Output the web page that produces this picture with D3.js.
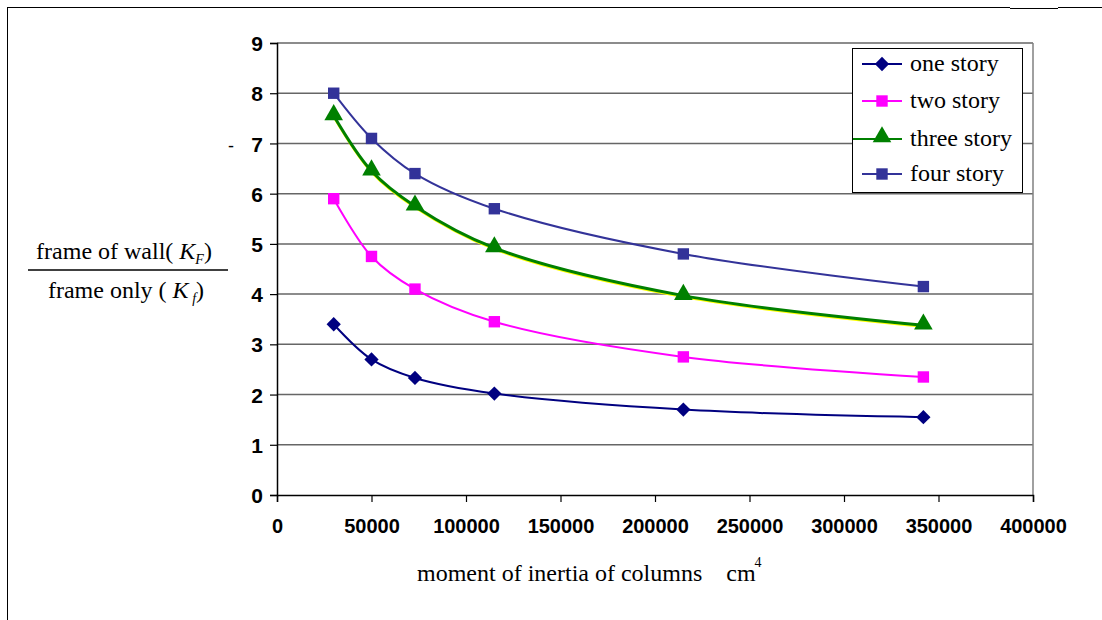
<!DOCTYPE html>
<html lang="en">
<head>
  <meta charset="UTF-8">
  <title>Stiffness ratio vs moment of inertia</title>
  <script src="https://d3js.org/d3.v7.min.js"></script>
  <style>
    * { margin: 0; padding: 0; }
    body { background: #fff; }
  </style>
</head>
<body>
  <div class="chart"></div>
  <script>
    // data
    var inertia = [30000, 50000, 73000, 115000, 215000, 342000];
    var oneStory = [3.4, 2.7, 2.33, 2.02, 1.7, 1.55];
    var twoStory = [5.9, 4.75, 4.1, 3.45, 2.75, 2.35];
    var threeStory = [7.55, 6.45, 5.75, 4.92, 3.97, 3.38];
    var fourStory = [8.0, 7.1, 6.4, 5.7, 4.8, 4.15];
    var seriesNames = ['one story', 'two story', 'three story', 'four story'];
    var xTicks = [0, 50000, 100000, 150000, 200000, 250000, 300000, 350000, 400000];
    var yTicks = [0, 1, 2, 3, 4, 5, 6, 7, 8, 9];

    var width = 1102, height = 620;
    var plotLeft = 277, plotRight = 1033, plotTop = 43, plotBottom = 495;

    var svg = d3.select('.chart')
      .append('svg')
      .attr('width', width)
      .attr('height', height);

    // outer frame (left + top edges)
    svg.append('line').attr('x1', 7.5).attr('y1', 7).attr('x2', 7.5).attr('y2', 620)
      .attr('stroke', '#000').attr('stroke-width', 1);
    svg.append('line').attr('x1', 7).attr('y1', 7.5).attr('x2', 1010).attr('y2', 7.5)
      .attr('stroke', '#000').attr('stroke-width', 1);
    svg.append('line').attr('x1', 1010).attr('y1', 8.5).attr('x2', 1058).attr('y2', 8.5)
      .attr('stroke', '#000').attr('stroke-width', 1);
    svg.append('line').attr('x1', 1058).attr('y1', 7.5).attr('x2', 1102).attr('y2', 7.5)
      .attr('stroke', '#000').attr('stroke-width', 1);

    var xScale = d3.scaleLinear().domain([0, 400000]).range([plotLeft, plotRight]);
    var yScale = d3.scaleLinear().domain([0, 9]).range([plotBottom, plotTop]);

    // gridlines
    svg.append('g')
      .selectAll('line')
      .data(yTicks.slice(1))
      .enter()
      .append('line')
      .attr('x1', plotLeft).attr('x2', plotRight)
      .attr('y1', function (d) { return yScale(d); })
      .attr('y2', function (d) { return yScale(d); })
      .attr('stroke', '#666')
      .attr('stroke-width', 1.5);

    // right border of plot area
    svg.append('line')
      .attr('x1', plotRight).attr('x2', plotRight).attr('y1', plotTop).attr('y2', plotBottom)
      .attr('stroke', '#808080').attr('stroke-width', 1.5);

    // axes
    var xAxis = d3.axisBottom(xScale).tickValues(xTicks).tickSize(7).tickFormat(d3.format('d'));
    var yAxis = d3.axisLeft(yScale).tickValues(yTicks).tickSize(7).tickFormat(d3.format('d'));

    var gx = svg.append('g')
      .attr('transform', 'translate(0,' + plotBottom + ')')
      .call(xAxis);
    var gy = svg.append('g')
      .attr('transform', 'translate(' + plotLeft + ',0)')
      .call(yAxis);

    [gx, gy].forEach(function (g) {
      g.select('.domain').attr('stroke', '#000').attr('stroke-width', 1.5);
      g.selectAll('.tick line').attr('stroke', '#000').attr('stroke-width', 1.2);
      g.selectAll('.tick text')
        .attr('fill', '#000')
        .style('font-family', 'Liberation Sans, Arial, sans-serif')
        .style('font-weight', 'bold');
    });
    gx.selectAll('.tick text').style('font-size', '20px').attr('y', 20).attr('dy', '0.9em');
    gy.selectAll('.tick text').style('font-size', '21px').attr('x', -14).attr('dy', '0.36em');

    // stray dash next to the 7
    svg.append('text')
      .attr('x', 228).attr('y', yScale(7) + 9)
      .style('font-family', 'Liberation Sans, Arial, sans-serif')
      .style('font-size', '18px')
      .text('-');

    // series
    var series = [
      { name: seriesNames[0], values: oneStory, color: '#000080', marker: 'diamond', width: 2 },
      { name: seriesNames[1], values: twoStory, color: '#FF00FF', marker: 'square', width: 2 },
      { name: seriesNames[2], values: threeStory, color: '#008000', marker: 'triangle', width: 3 },
      { name: seriesNames[3], values: fourStory, color: '#333399', marker: 'square', width: 2 }
    ];

    var line = d3.line()
      .x(function (d) { return xScale(d[0]); })
      .y(function (d) { return yScale(d[1]); })
      .curve(d3.curveCatmullRom);

    function markerPath(type) {
      if (type === 'diamond') return d3.symbol().type(d3.symbolDiamond2).size(130)();
      if (type === 'triangle') return d3.symbol().type(d3.symbolTriangle).size(150)();
      return d3.symbol().type(d3.symbolSquare).size(130)();
    }

    series.forEach(function (s) {
      var pts = inertia.map(function (x, i) { return [x, s.values[i]]; });
      if (s.marker === 'triangle') {
        // thin yellow line peeking out under the green one
        svg.append('path')
          .attr('d', line(pts))
          .attr('fill', 'none')
          .attr('stroke', '#FFFF00')
          .attr('stroke-width', 2)
          .attr('transform', 'translate(0,1.5)');
      }
      svg.append('path')
        .attr('d', line(pts))
        .attr('fill', 'none')
        .attr('stroke', s.color)
        .attr('stroke-width', s.width);
      svg.append('g')
        .selectAll('path')
        .data(pts)
        .enter()
        .append('path')
        .attr('d', markerPath(s.marker))
        .attr('transform', function (d) {
          var dy = s.marker === 'triangle' ? -1 : 0;
          return 'translate(' + xScale(d[0]) + ',' + (yScale(d[1]) + dy) + ')';
        })
        .attr('fill', s.color);
    });

    // legend
    var legend = svg.append('g');
    legend.append('rect')
      .attr('x', 852.5).attr('y', 48.5).attr('width', 170).attr('height', 144)
      .attr('fill', '#fff').attr('stroke', '#000').attr('stroke-width', 1);
    var legendY = [64, 101, 139, 174];
    series.forEach(function (s, i) {
      var y = legendY[i];
      var x1 = s.marker === 'triangle' ? 853 : 862;
      legend.append('line')
        .attr('x1', x1).attr('x2', 902).attr('y1', y).attr('y2', y)
        .attr('stroke', s.color).attr('stroke-width', 2);
      legend.append('path')
        .attr('d', markerPath(s.marker))
        .attr('transform', 'translate(882,' + (s.marker === 'triangle' ? y - 2 : y) + ')')
        .attr('fill', s.color);
      legend.append('text')
        .attr('x', 910).attr('y', y + 7)
        .style('font-family', 'Liberation Serif, Times New Roman, serif')
        .style('font-size', '24px')
        .text(s.name);
    });

    // y axis label as a fraction
    var serif = 'Liberation Serif, Times New Roman, serif';
    var num = svg.append('text')
      .attr('x', 124).attr('y', 259)
      .attr('text-anchor', 'middle')
      .style('font-family', serif)
      .style('font-size', '24px');
    num.append('tspan').text('frame of wall( ');
    num.append('tspan').style('font-style', 'italic').text('K');
    num.append('tspan').style('font-style', 'italic').style('font-size', '14px').attr('dy', 5).text('F');
    num.append('tspan').attr('dy', -5).text(')');

    svg.append('line')
      .attr('x1', 28).attr('x2', 228).attr('y1', 270).attr('y2', 270)
      .attr('stroke', '#000').attr('stroke-width', 1.5);

    var den = svg.append('text')
      .attr('x', 126).attr('y', 298)
      .attr('text-anchor', 'middle')
      .style('font-family', serif)
      .style('font-size', '24px');
    den.append('tspan').text('frame only ( ');
    den.append('tspan').style('font-style', 'italic').text('K');
    den.append('tspan').style('font-style', 'italic').style('font-size', '14px').attr('dy', 5).text(' f');
    den.append('tspan').attr('dy', -5).text(')');

    // x axis label
    var xl = svg.append('text')
      .attr('x', 417).attr('y', 581)
      .style('font-family', serif)
      .style('font-size', '24px');
    xl.append('tspan').text('moment of inertia of columns\u00a0\u00a0\u00a0 cm');
    xl.append('tspan').style('font-size', '14px').attr('dy', -14).attr('dx', -1).text('4');
  </script>
</body>
</html>
